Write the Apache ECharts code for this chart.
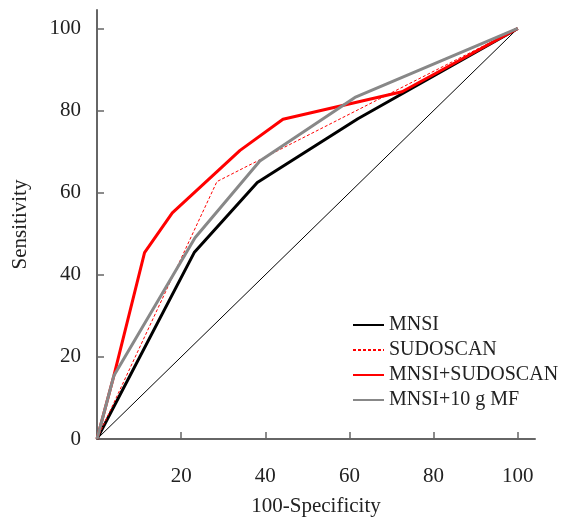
<!DOCTYPE html>
<html>
<head>
<meta charset="utf-8">
<script src="https://cdn.jsdelivr.net/npm/echarts@6/dist/echarts.min.js"></script>
<style>
  html, body { margin: 0; padding: 0; background: #fff; }
  #rocBox { width: 566px; height: 522px; }
</style>
</head>
<body>
<div id="rocBox"></div>
<script>
// ROC points: [100-specificity, sensitivity]
var mnsiPts = [[0, 0], [23.1, 45.4], [38.1, 62.5], [62, 78], [100, 100]];
var sudoscanPts = [[0, 0], [28.5, 62.7], [100, 100]];
var comboPts = [[0, 0], [4, 15.4], [11.3, 45.4], [17.9, 55.1], [34, 70.3], [44.2, 77.9], [72.5, 84.6], [100, 100]];
var mfPts = [[0, 0], [4, 15.4], [23.3, 49], [38.7, 67.7], [61.3, 83.2], [100, 100]];
var refPts = [[0, 0], [100, 100]];

var seriesNames = ['MNSI', 'SUDOSCAN', 'MNSI+SUDOSCAN', 'MNSI+10 g MF'];
var tickValues = [20, 40, 60, 80, 100];
var yLabelValues = [0, 20, 40, 60, 80, 100];

var serif = '"Liberation Serif", "DejaVu Serif", serif';

var rocChart = echarts.init(document.getElementById('rocBox'));

function lineSeries(name, data, color, width, type) {
    return {
        name: name,
        type: 'line',
        data: data,
        symbol: 'none',
        animation: false,
        lineStyle: { color: color, width: width, type: type || 'solid' },
        itemStyle: { color: color }
    };
}

var option = {
    backgroundColor: '#fff',
    grid: { left: 97, right: 31, top: 10, bottom: 75 },
    legend: {
        orient: 'vertical',
        left: 347,
        top: 310,
        itemWidth: 31,
        itemHeight: 14,
        itemGap: 5,
        itemStyle: { opacity: 0 },
        data: seriesNames,
        textStyle: { fontFamily: serif, fontSize: 20, color: '#222' }
    },
    xAxis: {
        type: 'value',
        min: 0,
        max: 104.1,
        name: '100-Specificity',
        nameLocation: 'middle',
        nameGap: 57,
        nameTextStyle: { fontFamily: serif, fontSize: 21, color: '#222' },
        splitLine: { show: false },
        axisLine: { lineStyle: { color: '#666', width: 2 } },
        axisTick: { inside: true, length: 7, customValues: tickValues, lineStyle: { color: '#666', width: 1.5 } },
        axisLabel: { customValues: tickValues, margin: 27, fontFamily: serif, fontSize: 21, color: '#222' }
    },
    yAxis: {
        type: 'value',
        min: 0,
        max: 104.5,
        name: 'Sensitivity',
        nameLocation: 'middle',
        nameGap: 66,
        nameTextStyle: { fontFamily: serif, fontSize: 21, color: '#222' },
        splitLine: { show: false },
        axisLine: { show: true, lineStyle: { color: '#666', width: 2 } },
        axisTick: { show: true, inside: true, length: 7, customValues: tickValues, lineStyle: { color: '#666', width: 1.5 } },
        axisLabel: { customValues: yLabelValues, margin: 16, fontFamily: serif, fontSize: 21, color: '#222' }
    },
    series: [
        lineSeries('ref', refPts, '#000', 1),
        lineSeries('MNSI', mnsiPts, '#000', 3),
        lineSeries('SUDOSCAN', sudoscanPts, '#ff0000', 1, [3, 2]),
        lineSeries('MNSI+SUDOSCAN', comboPts, '#ff0000', 3),
        lineSeries('MNSI+10 g MF', mfPts, '#888', 3)
    ]
};

rocChart.setOption(option);
</script>
</body>
</html>
